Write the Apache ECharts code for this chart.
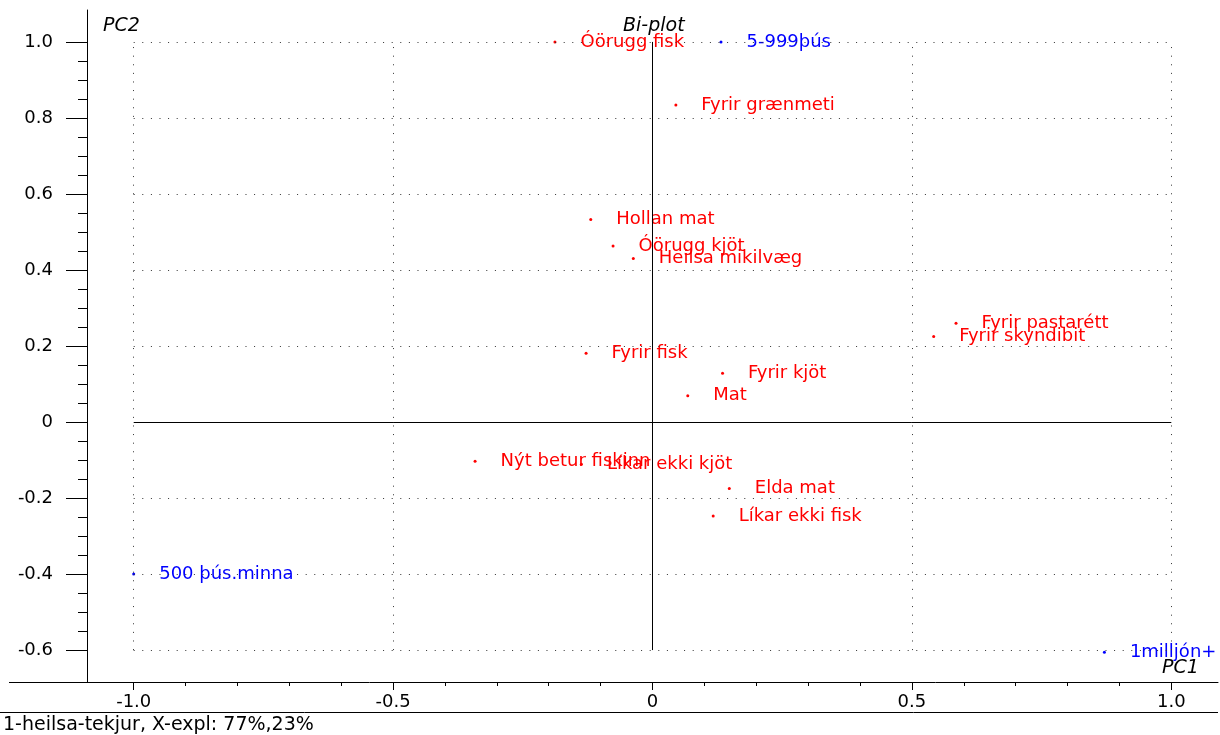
<!DOCTYPE html>
<html>
<head>
<meta charset="utf-8">
<title>Bi-plot</title>
<script src="https://cdn.jsdelivr.net/npm/echarts@6.0.0/dist/echarts.min.js"></script>
<style>
  html, body { margin: 0; padding: 0; background: #fff; }
  #chart { width: 1220px; height: 735px; }
</style>
</head>
<body>
<div id="chart"></div>
<script>
// variables (red)
const varNames = ['Óörugg fisk', 'Fyrir grænmeti', 'Hollan mat', 'Óörugg kjöt', 'Heilsa mikilvæg',
  'Fyrir pastarétt', 'Fyrir skyndibit', 'Fyrir fisk', 'Fyrir kjöt', 'Mat',
  'Nýt betur fiskinn', 'Líkar ekki kjöt', 'Elda mat', 'Líkar ekki fisk']
const varPC1 = [-0.188, 0.045, -0.119, -0.076, -0.037, 0.585, 0.542, -0.128, 0.135, 0.068, -0.342, -0.137, 0.148, 0.117]
const varPC2 = [1.000, 0.834, 0.533, 0.463, 0.430, 0.260, 0.225, 0.181, 0.128, 0.069, -0.103, -0.111, -0.175, -0.247]

// income groups (blue)
const grpNames = ['5-999þús', '500 þús.minna', '1milljón+']
const grpPC1 = [0.132, -1.000, 0.871]
const grpPC2 = [1.000, -0.400, -0.606]

// ticks
const xMajor = [-1, -0.5, 0, 0.5, 1]
const xMinor = [-0.9, -0.8, -0.7, -0.6, -0.4, -0.3, -0.2, -0.1, 0.1, 0.2, 0.3, 0.4, 0.6, 0.7, 0.8, 0.9]
const yMajor = [-0.6, -0.4, -0.2, 0, 0.2, 0.4, 0.6, 0.8, 1.0]
const yMinor = [-0.55, -0.5, -0.45, -0.35, -0.3, -0.25, -0.15, -0.1, -0.05, 0.05, 0.1, 0.15,
  0.25, 0.3, 0.35, 0.45, 0.5, 0.55, 0.65, 0.7, 0.75, 0.85, 0.9, 0.95]

const font = 'DejaVu Sans, Liberation Sans, sans-serif'
const fmt = v => (v === 0 ? '0' : v.toFixed(1))

const dotted = { color: '#333', width: 1, type: [1, 7.6] }
const solid = { color: '#000', width: 1, type: 'solid' }
const gridLines = []
yMajor.filter(v => v !== 0).forEach(v => {
  gridLines.push([{ coord: [-1, v], lineStyle: dotted }, { coord: [1, v] }])
})
xMajor.filter(v => v !== 0).forEach(v => {
  gridLines.push([{ coord: [v, -0.6], lineStyle: dotted }, { coord: [v, 1.0] }])
})
gridLines.push([{ coord: [-1, 0], lineStyle: solid }, { coord: [1, 0] }])
gridLines.push([{ coord: [0, -0.6], lineStyle: solid }, { coord: [0, 1.0] }])

const chart = echarts.init(document.getElementById('chart'))
chart.setOption({
  animation: false,
  textStyle: { fontFamily: font },
  grid: { left: 87, right: 2, top: 10, bottom: 53 },
  xAxis: [
    {
      type: 'value', min: -1.09, max: 1.09, position: 'bottom',
      axisLine: { onZero: false, lineStyle: { color: '#000', width: 1 } },
      axisTick: { customValues: xMajor, length: 8, lineStyle: { color: '#000' } },
      axisLabel: { customValues: xMajor, formatter: fmt, margin: 11, color: '#000', fontSize: 18, fontFamily: font },
      splitLine: { show: false }
    },
    {
      type: 'value', min: -1.09, max: 1.09, position: 'bottom',
      axisLine: { show: false, onZero: false },
      axisTick: { customValues: xMinor, length: 4, lineStyle: { color: '#000' } },
      axisLabel: { show: false },
      splitLine: { show: false }
    }
  ],
  yAxis: [
    {
      type: 'value', min: -0.684, max: 1.084, position: 'left',
      axisLine: { show: true, onZero: false, lineStyle: { color: '#000', width: 1 } },
      axisTick: { show: true, customValues: yMajor, length: 21, lineStyle: { color: '#000' } },
      axisLabel: { customValues: yMajor, formatter: fmt, margin: 34, color: '#000', fontSize: 18, fontFamily: font },
      splitLine: { show: false }
    },
    {
      type: 'value', min: -0.684, max: 1.084, position: 'left',
      axisLine: { show: false, onZero: false },
      axisTick: { show: true, customValues: yMinor, length: 9, lineStyle: { color: '#000' } },
      axisLabel: { show: false },
      splitLine: { show: false }
    }
  ],
  graphic: [
    { type: 'line', shape: { x1: 9, y1: 682.5, x2: 87, y2: 682.5 }, style: { stroke: '#000', lineWidth: 1 } },
    { type: 'line', shape: { x1: 0, y1: 712.5, x2: 1218, y2: 712.5 }, style: { stroke: '#000', lineWidth: 1 } },
    { type: 'text', left: 103, top: 17, style: { text: 'PC2', font: 'italic 19px ' + font, fill: '#000' } },
    { type: 'text', left: 1162, top: 659, style: { text: 'PC1', font: 'italic 19px ' + font, fill: '#000' } },
    { type: 'text', left: 623, top: 17, style: { text: 'Bi-plot', font: 'italic 19px ' + font, fill: '#000' } },
    { type: 'text', left: 3, top: 716, style: { text: '1-heilsa-tekjur, X-expl: 77%,23%', font: '19px ' + font, fill: '#000' } }
  ],
  series: [
    {
      name: 'variables',
      type: 'scatter',
      xAxisIndex: 0,
      yAxisIndex: 0,
      symbolSize: 3,
      itemStyle: { color: '#ff0000', opacity: 1 },
      label: {
        show: true, position: 'right', distance: 24,
        formatter: p => p.data[2], color: '#ff0000', opacity: 1, fontSize: 18, fontFamily: font
      },
      data: varNames.map((n, i) => [varPC1[i], varPC2[i], n]),
      markLine: {
        silent: true, symbol: ['none', 'none'], label: { show: false },
        emphasis: { disabled: true },
        data: gridLines
      },
      z: 3
    },
    {
      name: 'groups',
      type: 'scatter',
      xAxisIndex: 0,
      yAxisIndex: 0,
      symbolSize: 3,
      itemStyle: { color: '#0000ff', opacity: 1 },
      label: {
        show: true, position: 'right', distance: 24,
        formatter: p => p.data[2], color: '#0000ff', opacity: 1, fontSize: 18, fontFamily: font
      },
      data: grpNames.map((n, i) => [grpPC1[i], grpPC2[i], n]),
      z: 4
    }
  ]
})
</script>
</body>
</html>
